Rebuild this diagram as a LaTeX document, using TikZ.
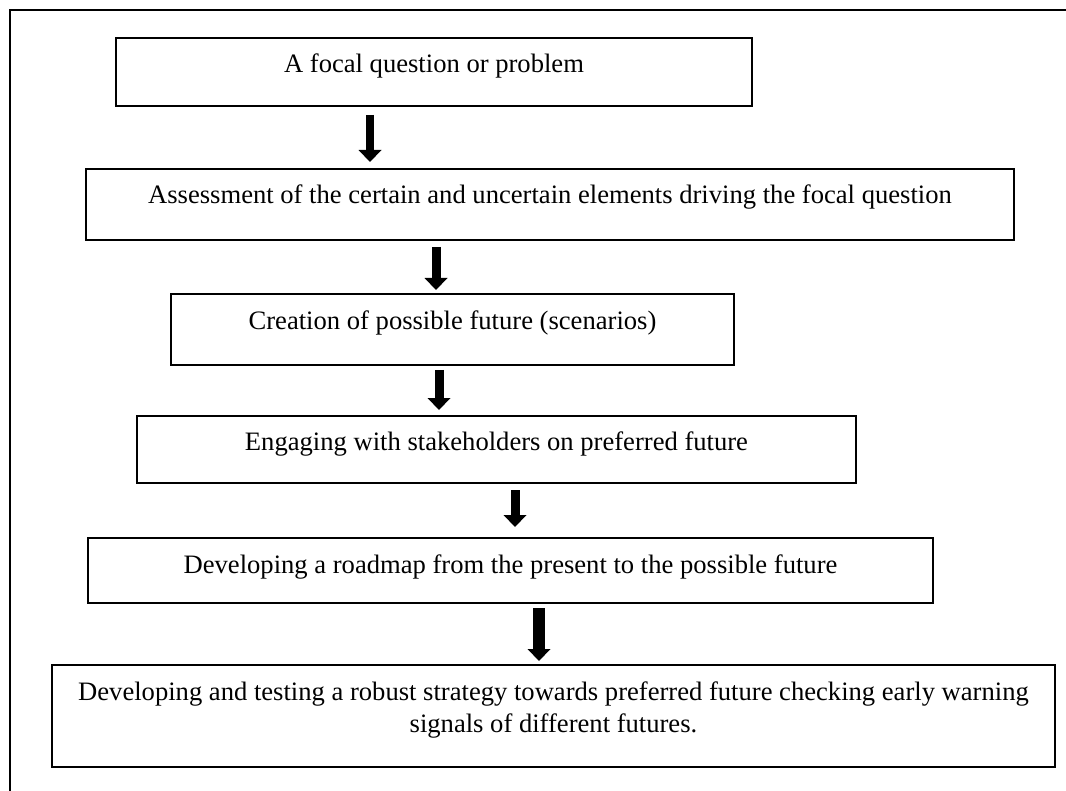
\documentclass[tikz,border=0pt]{standalone}
\usepackage{fontspec}
\setmainfont{Liberation Serif}
\usepackage{tikz}
\usetikzlibrary{arrows.meta,positioning,calc}

\begin{document}
\begin{tikzpicture}[x=0.5pt,y=-0.5pt,
          every node/.style={font=\fontsize{13.3pt}{16pt}\selectfont},
          stepbox/.style={draw,line width=0.6pt,inner xsep=0pt,inner ysep=0pt,
            outer sep=0pt,anchor=north,text height=17.5pt,align=center},
          blockarrow/.style={line width=#1,
            -{Triangle[width=11.5pt,length=6pt,line width=0pt]}},
          frame/.style={line width=0.75pt}]
          \useasboundingbox (0,0) rectangle (1066,791);
          \draw[frame] (10,800) |- (1080,10);
          % process boxes, top to bottom
          \node[stepbox,minimum width=318pt,text depth=16.5pt] (b1) at (434,38)
            {A focal question or problem};
          \node[stepbox,minimum width=464pt,text depth=18pt] (b2) at (550,169)
            {Assessment of the certain and uncertain elements driving the focal question};
          \node[stepbox,minimum width=281.5pt,text depth=18pt] (b3) at (452.5,294)
            {Creation of possible future (scenarios)};
          \node[stepbox,minimum width=359.5pt,text depth=16pt] (b4) at (496.5,416)
            {Engaging with stakeholders on preferred future};
          \node[stepbox,minimum width=422.5pt,text depth=15pt] (b5) at (510.5,538)
            {Developing a roadmap from the present to the possible future};
          \node[stepbox,minimum width=501.5pt,text height=33.5pt,text depth=17.5pt] (b6) at (553.5,665)
            {Developing and testing a robust strategy towards preferred future checking early warning\\
             signals of different futures.};
          % arrows between the boxes
          \draw[blockarrow=4pt,shorten <=4.5pt,shorten >=3.5pt] (b1.south -| 370,0) -- (b2.north -| 370,0);
          \draw[blockarrow=4.5pt,shorten <=3.5pt,shorten >=2pt] (b2.south -| 436,0) -- (b3.north -| 436,0);
          \draw[blockarrow=4.5pt,shorten <=2.5pt,shorten >=3pt] (b3.south -| 439,0) -- (b4.north -| 439,0);
          \draw[blockarrow=4.5pt,shorten <=3.5pt,shorten >=5.5pt] (b4.south -| 515,0) -- (b5.north -| 515,0);
          \draw[blockarrow=6pt,shorten <=2.5pt,shorten >=2pt] (b5.south -| 539,0) -- (b6.north -| 539,0);
        \end{tikzpicture}
\end{document}
